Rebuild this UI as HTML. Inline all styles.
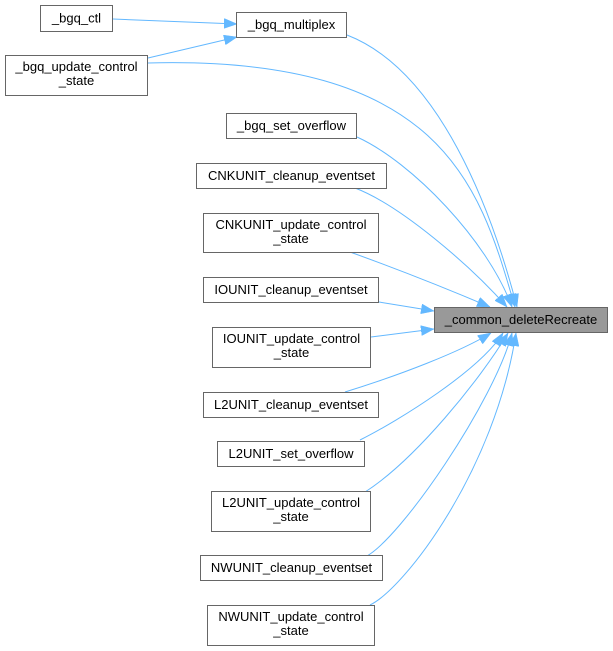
<!DOCTYPE html>
<html>
<head>
<meta charset="utf-8">
<style>
html,body{margin:0;padding:0;background:#fff;}
svg{display:block;}
text{font-family:"Liberation Sans",Arial,sans-serif;font-size:13px;fill:#000;text-anchor:middle;}
rect{fill:#fff;stroke:#666;stroke-width:1;}
path.e{fill:none;stroke:#63b8ff;stroke-width:1;}
</style>
</head>
<body>
<svg width="613" height="651" viewBox="0 0 613 651" xmlns="http://www.w3.org/2000/svg">
<defs>
<marker id="a" markerWidth="13" markerHeight="10" refX="13" refY="5" orient="auto" markerUnits="userSpaceOnUse">
<path d="M0,0 L13,5 L0,10 z" fill="#63b8ff" stroke="#63b8ff" stroke-width="0.5"/>
</marker>
</defs>

<!-- edges -->
<path class="e" marker-end="url(#a)" d="M113,19 L237,24"/>
<path class="e" marker-end="url(#a)" d="M148,58 L237,37"/>

<path class="e" marker-end="url(#a)" d="M347,35 C440,71 492,211 517,307"/>
<path class="e" marker-end="url(#a)" d="M148,63 C448,55 481,192 515,307"/>
<path class="e" marker-end="url(#a)" d="M357,137 C412,162 488,241 512,307"/>
<path class="e" marker-end="url(#a)" d="M355,188 C400,205 470,265 507,307"/>
<path class="e" marker-end="url(#a)" d="M350,252 C400,270 450,290 490,307"/>
<path class="e" marker-end="url(#a)" d="M379,302 L434,311"/>
<path class="e" marker-end="url(#a)" d="M371,337 L434,329"/>
<path class="e" marker-end="url(#a)" d="M345,392 C400,375 460,352 491,333"/>
<path class="e" marker-end="url(#a)" d="M360,440 C400,420 480,370 503,333"/>
<path class="e" marker-end="url(#a)" d="M365,492 C415,460 480,380 508,333"/>
<path class="e" marker-end="url(#a)" d="M365,557 C400,540 495,400 512,333"/>
<path class="e" marker-end="url(#a)" d="M370,605 C405,588 495,470 516,333"/>

<!-- nodes -->
<rect x="40.5" y="5.5" width="72" height="26"/>
<text x="76.5" y="22.5">_bgq_ctl</text>

<rect x="236.5" y="12.5" width="110" height="25"/>
<text x="291.5" y="29">_bgq_multiplex</text>

<rect x="5.5" y="55.5" width="142" height="40"/>
<text x="76.5" y="71">_bgq_update_control</text>
<text x="76.5" y="85">_state</text>

<rect x="226.5" y="113.5" width="130" height="25"/>
<text x="291.5" y="130">_bgq_set_overflow</text>

<rect x="196.5" y="163.5" width="190" height="25"/>
<text x="291.5" y="180">CNKUNIT_cleanup_eventset</text>

<rect x="203.5" y="213.5" width="175" height="39"/>
<text x="291" y="229">CNKUNIT_update_control</text>
<text x="291" y="243">_state</text>

<rect x="203.5" y="277.5" width="175" height="25"/>
<text x="291" y="294">IOUNIT_cleanup_eventset</text>

<rect x="212.5" y="327.5" width="158" height="40"/>
<text x="291.5" y="343">IOUNIT_update_control</text>
<text x="291.5" y="357">_state</text>

<rect x="203.5" y="392.5" width="175" height="25"/>
<text x="291" y="409">L2UNIT_cleanup_eventset</text>

<rect x="217.5" y="441.5" width="147" height="25"/>
<text x="291" y="458">L2UNIT_set_overflow</text>

<rect x="211.5" y="491.5" width="159" height="40"/>
<text x="291" y="507">L2UNIT_update_control</text>
<text x="291" y="521">_state</text>

<rect x="200.5" y="555.5" width="182" height="25"/>
<text x="291.5" y="572">NWUNIT_cleanup_eventset</text>

<rect x="207.5" y="605.5" width="167" height="40"/>
<text x="291" y="621">NWUNIT_update_control</text>
<text x="291" y="635">_state</text>

<rect x="434.5" y="307.5" width="173" height="25" style="fill:#999999;stroke:#666;"/>
<text x="521" y="324">_common_deleteRecreate</text>
</svg>
</body>
</html>
